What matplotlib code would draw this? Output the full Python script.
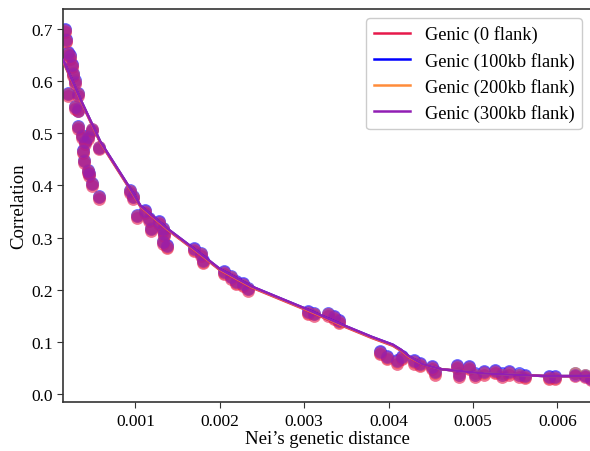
import numpy as np
import matplotlib
matplotlib.use('Agg')
import matplotlib.pyplot as plt

plt.rcParams['font.family'] = ['Liberation Serif', 'DejaVu Serif']

# observed points (Nei's distance vs correlation)
nei_dist = [0.000167, 0.000179, 0.000203, 0.000226, 0.000250, 0.000262, 0.000286,
            0.000203, 0.000322, 0.000286, 0.000322, 0.000322, 0.000369, 0.000488,
            0.000441, 0.000405, 0.000572, 0.000381, 0.000393, 0.000441, 0.000453,
            0.000488, 0.000572, 0.000941, 0.000976, 0.001024, 0.001119, 0.001155,
            0.001179, 0.001274, 0.001321, 0.001333, 0.001321, 0.001369, 0.001690,
            0.001774, 0.001798, 0.002048, 0.002131, 0.002190, 0.002274, 0.002333,
            0.003048, 0.003119, 0.003286, 0.003357, 0.003417, 0.003893, 0.003976,
            0.004095, 0.004155, 0.004298, 0.004369, 0.004512, 0.004548, 0.004810,
            0.004833, 0.004952, 0.005024, 0.005131, 0.005262, 0.005345, 0.005429,
            0.005548, 0.005619, 0.005905, 0.005976, 0.006214, 0.006321, 0.006393]

corr_300kb = [0.697, 0.678, 0.653, 0.647, 0.630, 0.614, 0.599,
              0.576, 0.576, 0.551, 0.547, 0.512, 0.495, 0.509,
              0.493, 0.484, 0.474, 0.466, 0.447, 0.428, 0.422,
              0.403, 0.378, 0.390, 0.378, 0.342, 0.351, 0.336,
              0.317, 0.330, 0.317, 0.307, 0.292, 0.284, 0.278,
              0.269, 0.255, 0.234, 0.225, 0.215, 0.211, 0.202,
              0.157, 0.154, 0.154, 0.148, 0.140, 0.081, 0.071,
              0.063, 0.071, 0.063, 0.058, 0.052, 0.042, 0.054,
              0.038, 0.052, 0.038, 0.042, 0.044, 0.038, 0.042,
              0.038, 0.035, 0.033, 0.033, 0.038, 0.035, 0.029]
corr_100kb = [0.699, 0.680, 0.655, 0.649, 0.632, 0.616, 0.601,
              0.578, 0.578, 0.553, 0.543, 0.514, 0.497, 0.506,
              0.495, 0.486, 0.471, 0.468, 0.449, 0.430, 0.424,
              0.405, 0.380, 0.392, 0.380, 0.344, 0.353, 0.338,
              0.319, 0.332, 0.319, 0.309, 0.294, 0.286, 0.280,
              0.271, 0.257, 0.236, 0.227, 0.217, 0.213, 0.204,
              0.159, 0.156, 0.156, 0.150, 0.142, 0.083, 0.073,
              0.065, 0.073, 0.065, 0.060, 0.054, 0.044, 0.056,
              0.040, 0.054, 0.040, 0.044, 0.046, 0.040, 0.044,
              0.040, 0.037, 0.035, 0.035, 0.040, 0.037, 0.031]
corr_200kb = [0.696, 0.677, 0.652, 0.646, 0.629, 0.613, 0.598,
              0.575, 0.575, 0.550, 0.546, 0.511, 0.494, 0.508,
              0.492, 0.483, 0.473, 0.465, 0.446, 0.427, 0.421,
              0.402, 0.377, 0.389, 0.377, 0.341, 0.350, 0.335,
              0.316, 0.329, 0.316, 0.306, 0.291, 0.283, 0.277,
              0.268, 0.254, 0.233, 0.224, 0.214, 0.210, 0.201,
              0.156, 0.153, 0.153, 0.147, 0.139, 0.080, 0.070,
              0.062, 0.070, 0.062, 0.057, 0.051, 0.041, 0.053,
              0.037, 0.051, 0.037, 0.041, 0.043, 0.037, 0.041,
              0.037, 0.034, 0.032, 0.032, 0.040, 0.037, 0.031]
corr_0flank = [0.693, 0.674, 0.649, 0.643, 0.626, 0.610, 0.595,
               0.572, 0.572, 0.547, 0.543, 0.508, 0.491, 0.505,
               0.489, 0.480, 0.470, 0.462, 0.443, 0.424, 0.418,
               0.399, 0.374, 0.386, 0.374, 0.338, 0.347, 0.332,
               0.313, 0.326, 0.313, 0.303, 0.288, 0.280, 0.274,
               0.265, 0.251, 0.230, 0.221, 0.211, 0.207, 0.198,
               0.153, 0.150, 0.150, 0.144, 0.136, 0.077, 0.067,
               0.059, 0.067, 0.059, 0.054, 0.048, 0.038, 0.050,
               0.034, 0.048, 0.034, 0.038, 0.040, 0.034, 0.038,
               0.034, 0.031, 0.029, 0.029, 0.036, 0.033, 0.027]

# smoothed fit
fit_x = [0.000143, 0.000345, 0.000583, 0.000941, 0.00106, 0.00138, 0.0017,
         0.0020, 0.00237, 0.0030, 0.00344, 0.0038, 0.00405, 0.00415, 0.00424,
         0.0044, 0.00463, 0.00514, 0.00586, 0.0064]
fit_0flank = [0.637, 0.564, 0.482, 0.391, 0.359, 0.315, 0.276,
              0.238, 0.205, 0.163, 0.132, 0.108, 0.093, 0.083, 0.071,
              0.057, 0.048, 0.040, 0.035, 0.034]
fit_100kb = [0.640, 0.566, 0.484, 0.393, 0.361, 0.317, 0.278,
             0.240, 0.207, 0.165, 0.134, 0.110, 0.095, 0.085, 0.073,
             0.058, 0.048, 0.040, 0.035, 0.035]
fit_200kb = [0.639, 0.565, 0.483, 0.392, 0.360, 0.316, 0.277,
             0.239, 0.206, 0.164, 0.133, 0.109, 0.094, 0.084, 0.072,
             0.058, 0.048, 0.040, 0.035, 0.035]
fit_300kb = [0.640, 0.566, 0.484, 0.393, 0.361, 0.317, 0.278,
             0.240, 0.207, 0.165, 0.134, 0.110, 0.095, 0.085, 0.073,
             0.058, 0.048, 0.040, 0.035, 0.035]

labels = ['Genic (0 flank)', 'Genic (100kb flank)', 'Genic (200kb flank)', 'Genic (300kb flank)']
colors = ['#e6194b', '#0000ff', '#ff8c3a', '#911eb4']
pts = [corr_0flank, corr_100kb, corr_200kb, corr_300kb]
fits = [fit_0flank, fit_100kb, fit_200kb, fit_300kb]

fig = plt.figure(figsize=(5.9, 4.52), dpi=100)
ax = fig.add_axes([0.107, 0.108, 0.895, 0.870])

# blue underneath so the blend stays magenta-purple
for i in [1, 2, 0, 3]:
    ax.scatter(nei_dist, pts[i], s=85, color=colors[i], alpha=0.6, lw=0, zorder=2)
for i in range(4):
    ax.plot(fit_x, fits[i], color=colors[i], lw=1.8, label=labels[i], zorder=3)

ax.set_xlim(0.000143, 0.0064)
ax.set_ylim(-0.015, 0.738)
ax.set_xticks([0.001, 0.002, 0.003, 0.004, 0.005, 0.006])
ax.set_xticklabels(['0.001', '0.002', '0.003', '0.004', '0.005', '0.006'])
ax.set_yticks(np.arange(0, 0.71, 0.1))
ax.set_yticklabels(['0.0', '0.1', '0.2', '0.3', '0.4', '0.5', '0.6', '0.7'])
ax.tick_params(labelsize=12.5, color='#333333', length=4)
for sp in ax.spines.values():
    sp.set_color('#333333')
    sp.set_linewidth(1.2)

ax.set_xlabel('Nei\u2019s genetic distance', fontsize=13.5, labelpad=1)
ax.set_ylabel('Correlation', fontsize=13.5, labelpad=3)
ax.legend(loc='upper right', fontsize=13.2, handlelength=2.0, framealpha=1.0,
          borderaxespad=0.5, labelspacing=0.45)

plt.savefig('out.png', dpi=100)
